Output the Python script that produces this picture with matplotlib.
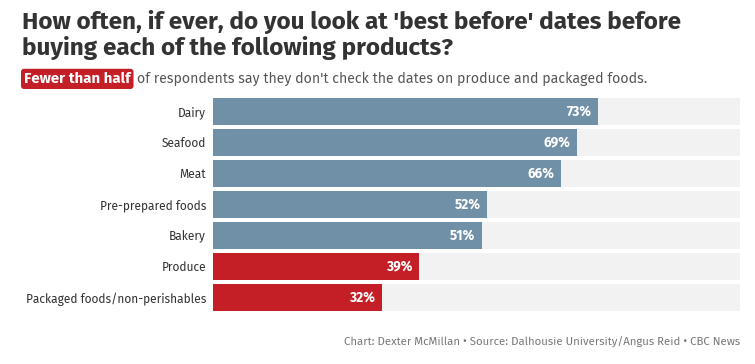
import matplotlib
matplotlib.use("Agg")
import matplotlib.pyplot as plt
from matplotlib import font_manager as fm

categories = ["Dairy", "Seafood", "Meat", "Pre-prepared foods", "Bakery", "Produce",
              "Packaged foods/non-perishables"]
values = [73, 69, 66, 52, 51, 39, 32]
highlight = [False, False, False, False, False, True, True]

BLUE = "#6F90A6"
RED = "#C41F26"
BG = "#F2F2F2"

available = set(f.name for f in fm.fontManager.ttflist)
FONT = "Roboto"
for cand in ["Fira Sans", "Open Sans", "Roboto"]:
    if cand in available:
        FONT = cand
        break

plt.rcParams["font.family"] = [FONT, "DejaVu Sans"]

fig = plt.figure(figsize=(7.55, 3.64), dpi=100)
W, H = 755, 364
renderer = fig.canvas.get_renderer()


def fit(text, target_px, weight="normal", base=10):
    t = fig.text(0, 0, text, fontsize=base, fontweight=weight)
    w = t.get_window_extent(renderer=renderer).width
    t.remove()
    return base * target_px / w


ax = fig.add_axes([213 / W, 1 - 311 / H, (740 - 213) / W, (311 - 98) / H])

n = len(categories)
pos = list(range(n))
bh = 27 / 31
lab_fs = min(fit("Packaged foods/non-perishables", 180), 11)
val_fs = min(fit("73%", 25, "bold"), 11)
ax.barh(pos, [100] * n, height=bh, color=BG, zorder=1)
ax.barh(pos, values, height=bh, color=[RED if h else BLUE for h in highlight], zorder=2)
for p, v in zip(pos, values):
    ax.annotate(f"{v}%", xy=(v, p), xytext=(-4.5, 0), textcoords="offset points",
                ha="right", va="center", color="white", fontsize=val_fs, fontweight="bold", zorder=3)
ax.set_xlim(0, 100)
ax.set_ylim(n - 1 + bh / 2, -bh / 2)
ax.set_yticks(pos)
ax.set_yticklabels(categories, fontsize=lab_fs, color="#333333")
ax.tick_params(axis="y", length=0, pad=5)
ax.set_xticks([])
for s in ax.spines.values():
    s.set_visible(False)

line1 = "How often, if ever, do you look at 'best before' dates before"
title_fs = min(fit(line1, 665, "bold"), 20)
fig.text(22.5 / W, 1 - 28.5 / H, line1,
         fontsize=title_fs, fontweight="bold", color="#333333", va="baseline")
fig.text(22.5 / W, 1 - 55 / H, "buying each of the following products?",
         fontsize=title_fs, fontweight="bold", color="#333333", va="baseline")

hl = "Fewer than half"
rest = "of respondents say they don't check the dates on produce and packaged foods."
sub_fs = min(fit(rest, 510), 12)
hl_fs = min(fit(hl, 107, "bold"), 12)
t = fig.text(24 / W, 1 - 83 / H, hl, fontsize=hl_fs, fontweight="bold", color="white",
             va="baseline",
             bbox=dict(boxstyle="round,pad=0.2,rounding_size=0.2", fc=RED, ec="none"))
fig.text(137 / W, 1 - 83 / H, rest, fontsize=sub_fs, color="#555555", va="baseline")

foot = "Chart: Dexter McMillan \u2022 Source: Dalhousie University/Angus Reid \u2022 CBC News"
foot_fs = min(fit(foot, 397), 10)
fig.text(740 / W, 1 - 346 / H, foot, fontsize=foot_fs, color="#777777", ha="right", va="baseline")

fig.savefig("out.png", dpi=100, facecolor="white")
